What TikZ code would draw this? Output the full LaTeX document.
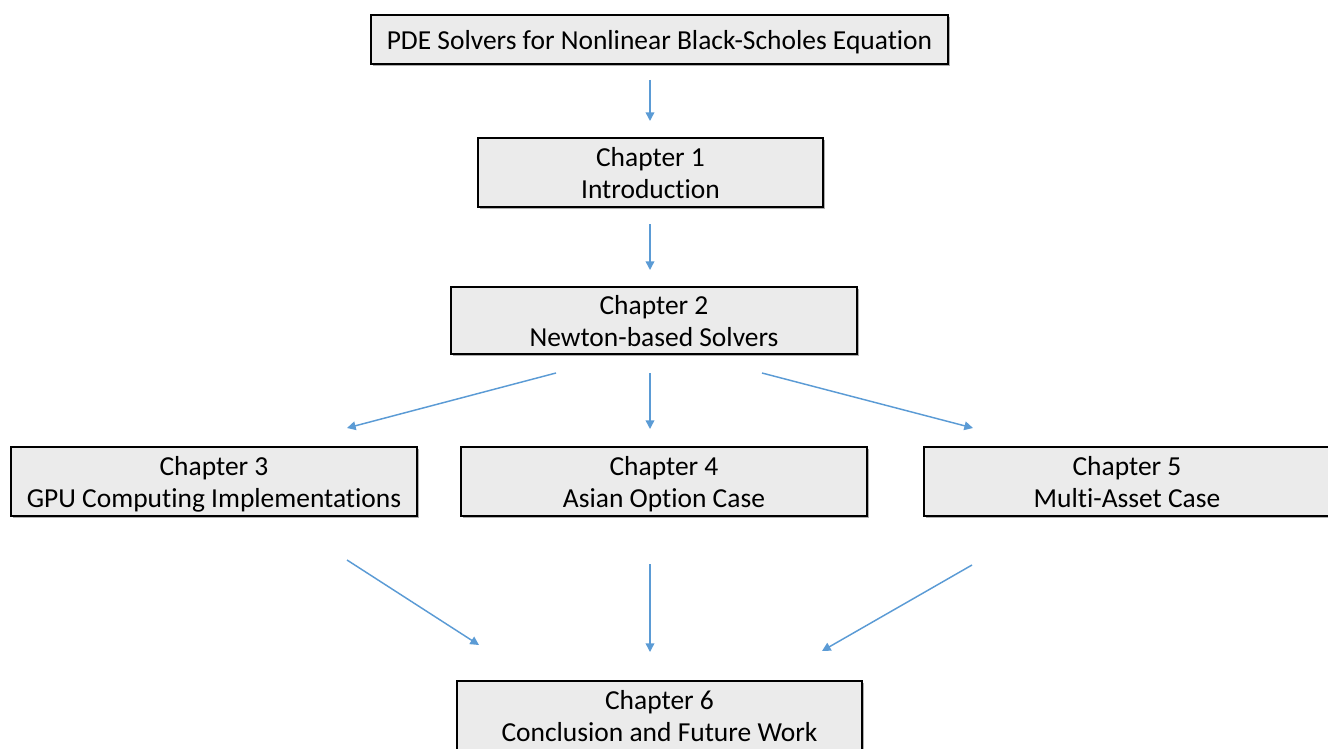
\documentclass[tikz,border=0pt]{standalone}
\usepackage{fontspec}
\setmainfont[Ligatures=NoCommon]{Carlito}
\usetikzlibrary{arrows.meta,shadows}
\definecolor{boxfill}{HTML}{EBEBEB}
\definecolor{arrowblue}{HTML}{5B9BD5}
\newcommand\nodp[1]{\raisebox{0pt}[\height][0pt]{#1}}
\tikzset{
  chapbox/.style={draw=black, line width=1.5pt, fill=boxfill,
    drop shadow={shadow xshift=1.8pt, shadow yshift=-1.8pt, opacity=0.45, fill=black!70},
    align=center, inner sep=0pt, font=\fontsize{20.6}{24}\selectfont},
  flow/.style={draw=arrowblue, line width=1.1pt, -{Triangle[length=6.5pt,width=6.5pt]}}
}
\begin{document}
\begin{tikzpicture}[x=0.75pt,y=-0.75pt]
\useasboundingbox (0,0) rectangle (1328,749);
\node[chapbox, minimum width=432.75pt, minimum height=36.75pt] (top) at (659.5,39.5) {\nodp{PDE Solvers for Nonlinear Black-Scholes Equation}};
\node[chapbox, minimum width=258.75pt, minimum height=51.75pt] (c1) at (650.5,172.5) {Chapter 1\\\nodp{Introduction}};
\node[chapbox, minimum width=304.5pt, minimum height=50.25pt] (c2) at (654,320.5) {Chapter 2\\\nodp{Newton-based Solvers}};
\node[chapbox, minimum width=304.5pt, minimum height=51.75pt] (c3) at (214,481.5) {Chapter 3\\\nodp{GPU Computing Implementations}};
\node[chapbox, minimum width=304.5pt, minimum height=51.75pt] (c4) at (664,481.5) {Chapter 4\\\nodp{Asian Option Case}};
\node[chapbox, minimum width=304.5pt, minimum height=51.75pt] (c5) at (1127,481.5) {Chapter 5\\\nodp{Multi-Asset Case}};
\node[chapbox, minimum width=303.75pt, minimum height=51.75pt] (c6) at (659.5,715.5) {Chapter 6\\\nodp{Conclusion and Future Work}};
\coordinate (a0s) at (650,80);  \coordinate (a0e) at (650,121);
\coordinate (a1s) at (650,224); \coordinate (a1e) at (650,270);
\coordinate (a2s) at (556,373); \coordinate (a2e) at (347,428);
\coordinate (a3s) at (650,373); \coordinate (a3e) at (650,429);
\coordinate (a4s) at (762,373); \coordinate (a4e) at (973,428);
\coordinate (a5s) at (347,560); \coordinate (a5e) at (479,645);
\coordinate (a6s) at (650,564); \coordinate (a6e) at (650,652);
\coordinate (a7s) at (972,565); \coordinate (a7e) at (822,651);
\draw[flow] (a0s) -- (a0e);
\draw[flow] (a1s) -- (a1e);
\draw[flow] (a2s) -- (a2e);
\draw[flow] (a3s) -- (a3e);
\draw[flow] (a4s) -- (a4e);
\draw[flow] (a5s) -- (a5e);
\draw[flow] (a6s) -- (a6e);
\draw[flow] (a7s) -- (a7e);
\end{tikzpicture}
\end{document}
